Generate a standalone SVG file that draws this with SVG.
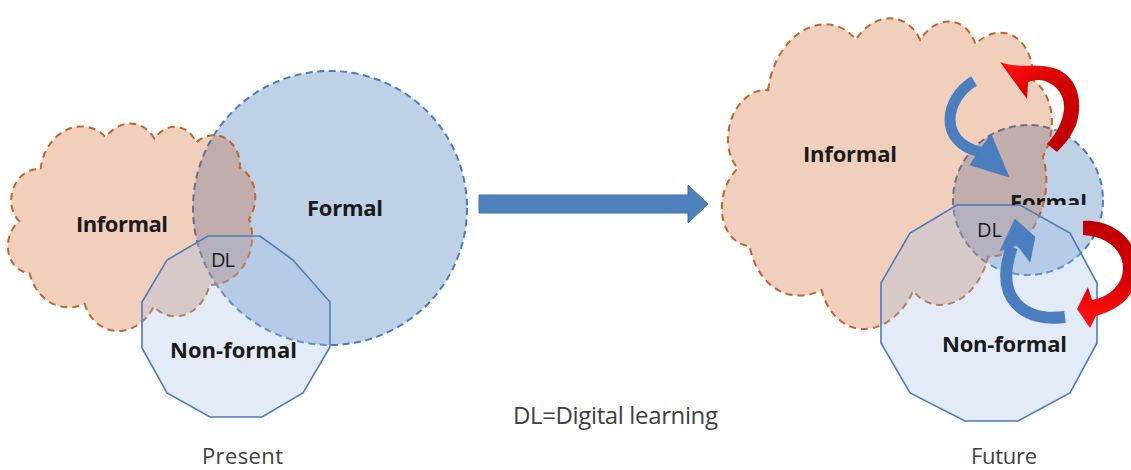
<svg xmlns="http://www.w3.org/2000/svg" width="1131" height="470" viewBox="0 0 1131 470">
  <style>
    .formal{fill:rgb(149,179,215);fill-opacity:0.6;stroke:#4a7ebb;stroke-width:2;stroke-dasharray:7 4.5}
    .cloud{fill:rgb(200,70,0);fill-opacity:0.26;stroke:#c0652b;stroke-width:2;stroke-dasharray:7 5}
    .nonformal{fill:rgb(160,190,228);fill-opacity:0.3;stroke:#4a7ebb;stroke-width:1.6}
    .lbl{font-family:"Open Sans","Liberation Sans",sans-serif;font-weight:bold;font-size:22px;fill:#1a1a1a}
    .dl{font-family:"Open Sans","Liberation Sans",sans-serif;font-size:20px;fill:#1a1a1a}
    .cap{font-family:"Open Sans","Liberation Sans",sans-serif;font-size:22px;fill:#404040}
    .bband{fill:none;stroke:#4a7ebf;stroke-linecap:butt}
    .bhead{fill:#4a7ebf;stroke:#4376b5;stroke-width:0.6;stroke-linejoin:round}
  </style>
  <defs>
    <path id="cloudShape" vector-effect="non-scaling-stroke" d="M-17700,-7230 A6753,9190 0 0 1 -7596,-16399 A5333,7267 0 0 1 854,-18169 A4365,5945 0 0 1 8231,-19121 A4857,6595 0 0 1 16716,-16025 A5333,7273 0 0 1 20217,-6141 A6775,9220 0 0 1 15802,8601 A5785,7867 0 0 1 6954,15212 A6752,9215 0 0 1 -5121,17664 A7720,10543 0 0 1 -15797,13871 A4360,5918 0 0 1 -19488,3949 A4345,5945 0 0 1 -17700,-7230 Z"/>
    <linearGradient id="red1" gradientUnits="userSpaceOnUse" x1="1055" y1="150" x2="1005" y2="65">
      <stop offset="0" stop-color="#c00000"/>
      <stop offset="0.55" stop-color="#d00000"/>
      <stop offset="1" stop-color="#ff1010"/>
    </linearGradient>
    <linearGradient id="red2" gradientUnits="userSpaceOnUse" x1="1090" y1="225" x2="1080" y2="315">
      <stop offset="0" stop-color="#c00000"/>
      <stop offset="0.5" stop-color="#d00000"/>
      <stop offset="1" stop-color="#ff1010"/>
    </linearGradient>
    <clipPath id="clipFormal">
      <rect x="990" y="170" width="120" height="35"/>
    </clipPath>
  </defs>

  <g id="present">
    <g id="present-formal">
      <circle class="formal" cx="330" cy="208" r="137"/>
      <text class="lbl" x="307" y="216" textLength="76">Formal</text>
    </g>
    <g id="present-informal">
      <use href="#cloudShape" class="cloud" transform="translate(131,225) rotate(12) scale(0.00565,0.00492)"/>
      <text class="lbl" x="76" y="232" textLength="92">Informal</text>
    </g>
    <g id="present-nonformal">
      <polygon class="nonformal" points="208,236 260,236 293,260 330,302 330,347 303,393 262,417 210,417 167,393 142,348 142,302 167,260"/>
      <text class="lbl" x="170" y="358" textLength="127">Non-formal</text>
    </g>
    <g id="present-dl">
      <text class="dl" x="211" y="267" textLength="24">DL</text>
    </g>
    <text class="cap" x="202" y="464" textLength="81">Present</text>
  </g>

  <g id="future">
    <g id="future-formal">
      <circle class="formal" cx="1028" cy="200" r="75"/>
    </g>
    <g id="future-informal">
      <use href="#cloudShape" class="cloud" transform="translate(886,170) rotate(12) scale(0.00745,0.0074)"/>
      <text class="lbl" x="803" y="162" textLength="94">Informal</text>
    </g>
    <g id="future-nonformal">
      <polygon class="nonformal" points="957,205 1020,205 1070,233 1097,283 1097,343 1070,393 1018,421 965,421 910,393 881,343 881,283 910,233"/>
      <text class="lbl" x="942" y="352" textLength="125">Non-formal</text>
    </g>
    <g id="future-formal-label">
      <text class="lbl" x="1010" y="210" textLength="77" clip-path="url(#clipFormal)">Formal</text>
    </g>
    <g id="future-dl">
      <text class="dl" x="977" y="237" textLength="25">DL</text>
    </g>
    <text class="cap" x="971" y="464" textLength="66">Future</text>
  </g>

  <g id="connectors">
    <polygon id="big-arrow" points="479,195 688,195 688,185 708,204 688,223 688,213 479,213" fill="#4f81bd" stroke="#3f6fa8" stroke-width="1"/>
    <g id="blue-arrow-top">
      <path class="bband" stroke-width="11" d="M974,81 C944,99 938,142 980,152"/>
      <polygon class="bhead" points="991,134 1009,177 970,165 979,151"/>
    </g>
    <g id="blue-arrow-bottom">
      <path class="bband" stroke-width="12" d="M1065,317 C1025,322 993,300 1012,247"/>
      <polygon class="bhead" points="1015,219 1035,237 1030,262 1017,245 1000,251"/>
    </g>
    <path id="red-arrow-top" fill="url(#red1)" d="M1000,62 C1020,70 1042,61 1061,71 C1079,81 1083,105 1076,125 C1071,137 1064,145 1057,152 L1047,144 C1055,135 1062,124 1064,110 C1065,96 1058,86 1045,81 C1038,79 1033,80 1028,82 L1027,99 Z"/>
    <path id="red-arrow-bottom" fill="url(#red2)" d="M1083,221 C1110,219 1138,238 1138,268 C1138,294 1120,310 1096,316 L1090,328 L1077,309 L1088,287 L1092,300 C1109,297 1123,285 1123,268 C1123,250 1106,236 1083,235 Z"/>
  </g>

  <text class="cap" x="513" y="424" style="font-size:24px" textLength="205">DL=Digital learning</text>
</svg>
